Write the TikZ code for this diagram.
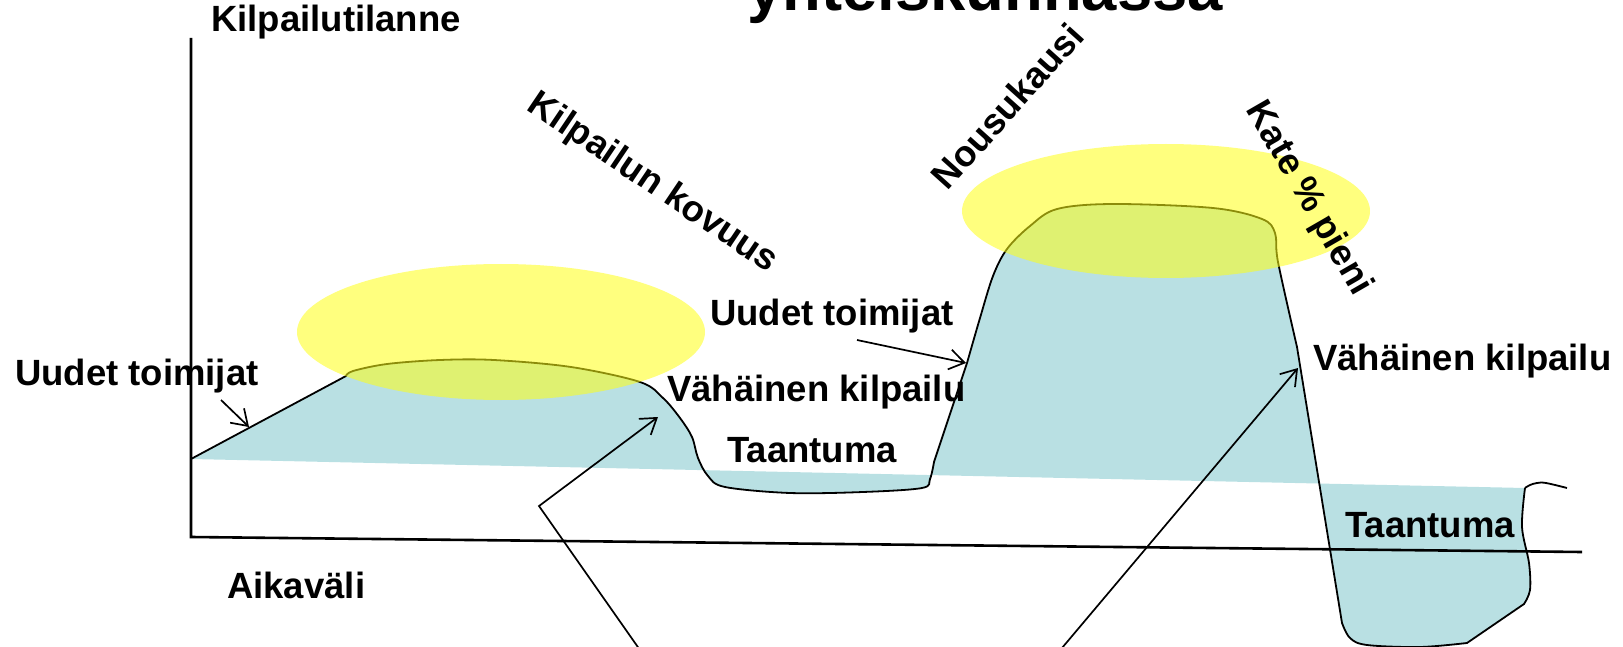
\documentclass[tikz,border=0pt]{standalone}
\usepackage{fontspec}
\setmainfont{Liberation Sans}
\usetikzlibrary{arrows.meta}
\definecolor{fillblue}{RGB}{185,224,227}
\definecolor{hiyellow}{RGB}{255,255,20}
\begin{document}
\begin{tikzpicture}[x=1pt,y=-1pt,
  lbl/.style={inner sep=0pt, font=\fontsize{36.5}{40}\selectfont\bfseries},
  ttl/.style={inner sep=0pt, font=\fontsize{63.4}{70}\selectfont\bfseries},
  arr/.style={line width=1.7pt, -{Straight Barb[length=15pt,width=20pt]}},
  curve/.style={line width=1.8pt, line join=round},
  axis/.style={line width=2.6pt},
  glow/.style={fill=hiyellow, fill opacity=0.55}]
\useasboundingbox (0,0) rectangle (1623,647);

% blue area and profile curve
\filldraw[fill=fillblue, draw=black, curve]
  (191,459) -- (346,376)
  -- plot[smooth,tension=0.55] coordinates {(346,376) (353,371) (387,364) (440,360) (494,360) (571,367) (640,382) (663,398) (680,418) (692,437) (698,458) (708,476) (725,487) (790,493) (863,492) (922,488) (930,479) (934,462)}
  -- (967,363)
  -- plot[smooth,tension=0.55] coordinates {(967,363) (980,318) (993,276) (1007,249) (1030,226) (1057,209) (1113,204) (1213,208) (1262,219) (1275,233) (1278,262) (1297,347)}
  -- (1342,623)
  -- plot[smooth,tension=0.55] coordinates {(1342,623) (1350,638) (1367,645) (1420,647) (1467,643)}
  -- (1524,604)
  -- plot[smooth,tension=0.55] coordinates {(1524,604) (1530,590) (1529,563) (1522,527) (1525,488)};
\draw[curve] plot[smooth,tension=0.6] coordinates {(1525,488) (1530,485) (1537,483) (1546,483) (1567,488)};

% axes
\coordinate (ytop) at (191,38);
\coordinate (orig) at (191,537);
\coordinate (xend) at (1582,552);
\draw[axis] (ytop) -- (orig) -- (xend);

% highlight ellipses
\fill[glow] (501,332) ellipse [x radius=204, y radius=68];
\fill[glow] (1166,211) ellipse [x radius=204, y radius=67];

% labels
\node[ttl, anchor=base] (title) at (985,11) {yhteiskunnassa};
\node[lbl, anchor=base west] (kt) at (211,32) {Kilpailutilanne};
\node[lbl, anchor=base west] (ut1) at (15,385) {Uudet toimijat};
\node[lbl, anchor=base west] (av) at (227,598) {Aikaväli};
\node[lbl, anchor=base west] (ut2) at (710,325) {Uudet toimijat};
\node[lbl, anchor=base west] (vk1) at (667,401) {Vähäinen kilpailu};
\node[lbl, anchor=base west] (ta1) at (727,462) {Taantuma};
\node[lbl, anchor=base west] (vk2) at (1313,370) {Vähäinen kilpailu};
\node[lbl, anchor=base west] (ta2) at (1345,537) {Taantuma};
\node[lbl, anchor=base, rotate=-34] (kk) at (647,191.5) {Kilpailun kovuus};
\node[lbl, anchor=base, rotate=48] (nk) at (1017,114.5) {Nousukausi};
\node[lbl, anchor=base, rotate=-60] (kp) at (1300,203.5) {Kate \% pieni};

% arrows
\coordinate (a1s) at (221,400);
\coordinate (a1t) at (249,427);
\draw[arr] (a1s) -- (a1t);
\coordinate (a2s) at (857,340);
\coordinate (a2t) at (966,363);
\draw[arr] (a2s) -- (a2t);
\coordinate (a3s) at (661,680);
\coordinate (a3v) at (539,506);
\coordinate (a3t) at (658,417);
\draw[arr, line join=miter] (a3s) -- (a3v) -- (a3t);
\coordinate (a4s) at (1035,680);
\coordinate (a4t) at (1298,368);
\draw[arr] (a4s) -- (a4t);
\end{tikzpicture}
\end{document}
